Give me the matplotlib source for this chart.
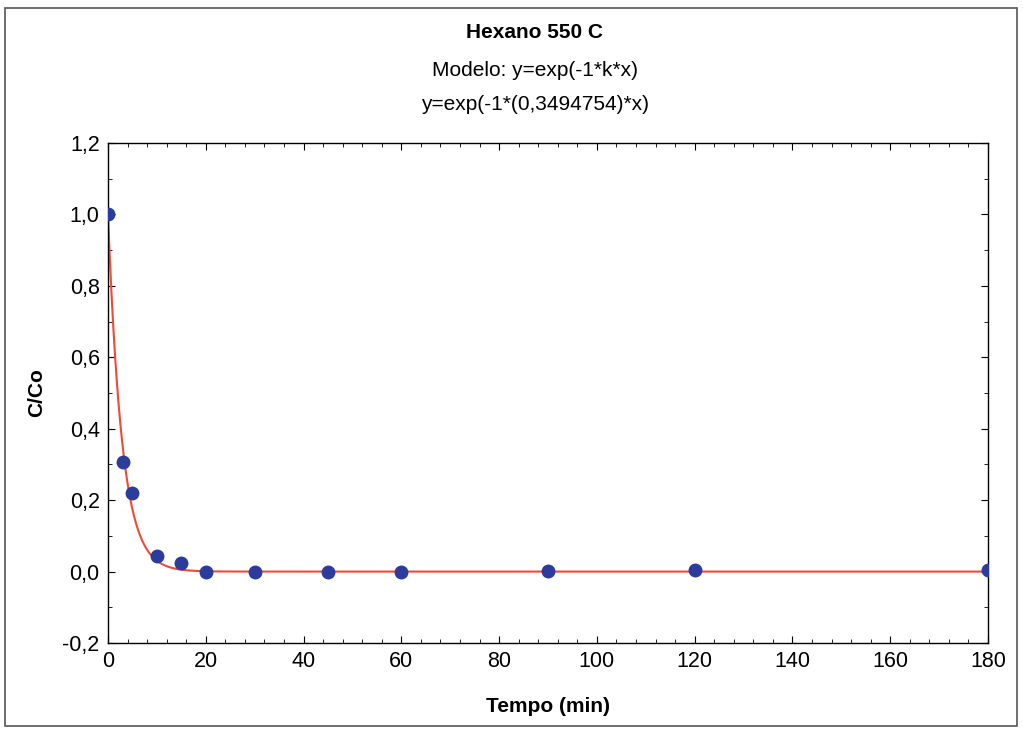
import matplotlib
matplotlib.use('Agg')
import matplotlib.pyplot as plt
import numpy as np
from matplotlib.ticker import FuncFormatter, MultipleLocator
from matplotlib.patches import Rectangle

plt.rcParams['font.family'] = ['Liberation Sans', 'DejaVu Sans']

# measured data
tempo = [0, 3, 5, 10, 15, 20, 30, 45, 60, 90, 120, 180]
c_co = [1.0, 0.306, 0.219, 0.043, 0.023, 0.0, 0.0, 0.0, 0.0, 0.002, 0.003, 0.005]
k = 0.3494754

fig = plt.figure(figsize=(10.23, 7.29), dpi=100)
W, H = 1023, 729
ax = fig.add_axes([108 / W, 1 - 643 / H, (988 - 108) / W, (643 - 143) / H])

xs = np.linspace(0, 180, 2000)
ax.plot(xs, np.exp(-1 * k * xs), color='#f04a35', lw=1.5, zorder=2)
ax.plot(tempo, c_co, 'o', color='#2b3c9c', ms=9, zorder=3)

ax.set_xlim(0, 180)
ax.set_ylim(-0.2, 1.2)
ax.xaxis.set_major_locator(MultipleLocator(20))
ax.xaxis.set_minor_locator(MultipleLocator(4))
ax.yaxis.set_major_locator(MultipleLocator(0.2))
ax.yaxis.set_minor_locator(MultipleLocator(0.1))
ax.yaxis.set_major_formatter(FuncFormatter(lambda v, p: f"{v:.1f}".replace('.', ',').replace('-0,0', '0,0')))
ax.tick_params(which='both', direction='in', top=True, right=True, labelsize=15.5, pad=6)
ax.tick_params(which='major', length=5)
ax.tick_params(which='minor', length=3)
for s in ax.spines.values():
    s.set_linewidth(1.0)

ax.set_xlabel('Tempo (min)', fontsize=15, fontweight='bold', labelpad=18)
ax.set_ylabel('C/Co', fontsize=15, fontweight='bold', labelpad=12)

fig.text(535 / W, 1 - 33 / H, 'Hexano 550 C', ha='center', va='center', fontsize=15, fontweight='bold')
fig.text(535 / W, 1 - 70 / H, 'Modelo: y=exp(-1*k*x)', ha='center', va='center', fontsize=15)
fig.text(535 / W, 1 - 104 / H, 'y=exp(-1*(0,3494754)*x)', ha='center', va='center', fontsize=15)

fig.patches.append(Rectangle((5 / W, 3 / H), 1012 / W, 1 - 11 / H, transform=fig.transFigure,
                             fill=False, edgecolor='#555555', lw=1.2))

fig.savefig('out.png', dpi=100)
